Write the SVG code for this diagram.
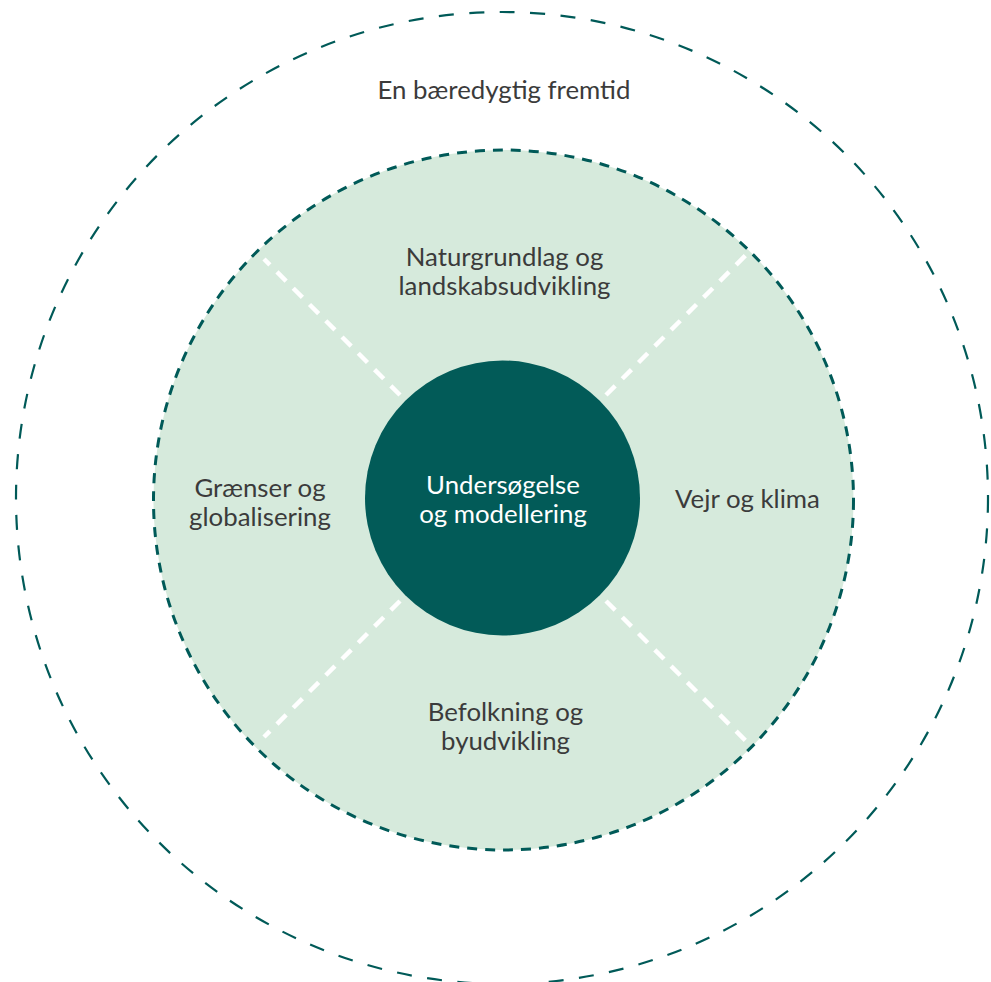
<svg xmlns="http://www.w3.org/2000/svg" width="991" height="982" viewBox="0 0 991 982">
<style>
.lbl{font-family:Lato,"Open Sans","Liberation Sans",sans-serif;font-size:25.8px;fill:#3b3b3b;text-anchor:middle}
.wl{fill:#ffffff}
.outer{fill:none;stroke:#005a58;stroke-width:2.2;stroke-dasharray:15 15.5}
.mid{fill:#d6eadc;stroke:#005a58;stroke-width:3;stroke-dasharray:10 8}
.div{stroke:#ffffff;stroke-width:4.5;stroke-dasharray:13 10;fill:none}
</style>
<rect width="991" height="982" fill="#ffffff"/>
<g id="outer-ring">
<circle class="outer" cx="502" cy="498" r="486"/>
<text class="lbl" x="504" y="99">En bæredygtig fremtid</text>
</g>
<g id="middle-ring">
<circle class="mid" cx="503.5" cy="500" r="350"/>
</g>
<g id="connectors">
<line class="div" x1="400" y1="395" x2="264" y2="259"/>
<line class="div" x1="606" y1="395" x2="747" y2="254"/>
<line class="div" x1="606" y1="601" x2="749" y2="744"/>
<line class="div" x1="400" y1="601" x2="264" y2="737"/>
</g>
<g id="center">
<circle cx="502.5" cy="498" r="137.5" fill="#025b58"/>
<text class="lbl wl" x="503" y="494">Undersøgelse</text>
<text class="lbl wl" x="503" y="523">og modellering</text>
</g>
<g id="naturgrundlag">
<text class="lbl" x="504.5" y="266">Naturgrundlag og</text>
<text class="lbl" x="504.5" y="295">landskabsudvikling</text>
</g>
<g id="graenser">
<text class="lbl" x="260" y="497">Grænser og</text>
<text class="lbl" x="260" y="526">globalisering</text>
</g>
<g id="vejr">
<text class="lbl" x="747.5" y="508">Vejr og klima</text>
</g>
<g id="befolkning">
<text class="lbl" x="505.5" y="721">Befolkning og</text>
<text class="lbl" x="505.5" y="750">byudvikling</text>
</g>
</svg>
